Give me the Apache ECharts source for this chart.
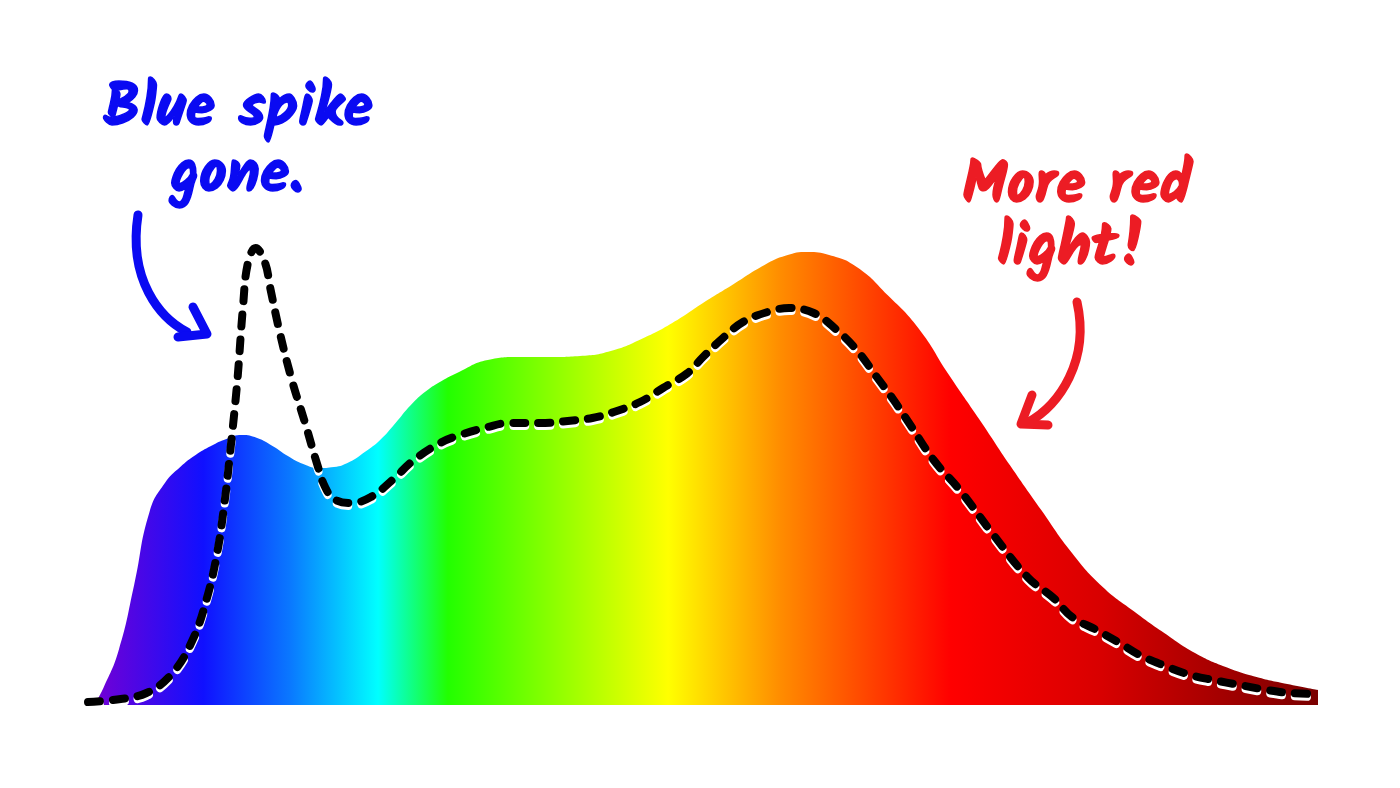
<!DOCTYPE html>
<html>
<head>
<meta charset="utf-8">
<script src="https://cdn.jsdelivr.net/npm/echarts@6/dist/echarts.min.js"></script>
<style>html,body{margin:0;padding:0;background:#fff;}#c{width:1400px;height:788px;}</style>
</head>
<body>
<div id="c"></div>
<script>
// Spectrum of the new light (filled area), wavelength in nm
const areaNm = [382,385,390,395,400,405,410,415,420,425,430,435,440,445,450,455,460,465,470,475,480,485,490,495,500,510,520,530,540,550,560,570,580,590,600,607,614,621,630,640,650,660,670,680,690,700,710,720,730,740,750,760,770,780];
const areaVal = [0,3.4,11,24,38.6,44.4,47.6,50,51.8,53.2,54,53.4,51.8,49.8,48.2,47.4,47.6,48.6,50.6,53,56.4,60,62.8,64.8,66.4,69,69.6,69.6,69.8,70.8,73.2,76.4,80.4,84.2,88,89.9,90.6,90,87.6,82,75.4,66,57,47.8,39,30.4,23.6,18.8,14.4,10.4,7.6,5.6,4.2,3];
// Spectrum of the old light (dashed line)
const lineNm = [380,388,399,407.5,414,418.5,422,424.5,426.2,428.5,430.4,432,434.5,437.6,439.2,442.4,446.3,450.6,454.8,457.1,460,465.5,472,479,486,494.5,501,510,517,527,536,544,551,559.5,567,575,580,586.5,593,601,608,616,623.5,630,636.5,642,647,655,663.5,674,685.5,694,700,708,715.5,722,729.5,738.5,746,754.5,763.5,771,780];
const lineVal = [0.6,1,2.4,6.4,13,21,30.4,41,50.4,64.4,79.6,88.4,91.4,88.4,83.6,74.4,65,56.4,47.6,43.6,41.2,40.4,41.6,45,49,52.4,54,55.6,56.4,56.4,56.8,57.4,58.6,60.6,63.4,66.4,69.6,73.4,76.6,78.6,79.4,78.4,75,71,65.6,61,56.4,49,43,34.4,25.6,21.4,17.6,15,12.4,10,8,6,5,4,3,2.4,2.2];
// Annotations
const blueNote = ['Blue spike', 'gone.'];
const redNote = ['More red', 'light!'];

const chart = echarts.init(document.getElementById('c'));
const FONT = 'Kalam, "Comic Sans MS", Lato, "Open Sans", sans-serif';
const BLUE = '#0a0af2';
const RED = '#ec1c24';

const spectrum = new echarts.graphic.LinearGradient(0, 0, 1, 0, [
  {offset: 0, color: '#7400d4'},
  {offset: 0.089, color: '#1010ff'},
  {offset: 0.16, color: '#0a78ff'},
  {offset: 0.232, color: '#00ffff'},
  {offset: 0.289, color: '#22ff00'},
  {offset: 0.469, color: '#ffff00'},
  {offset: 0.561, color: '#ff8c00'},
  {offset: 0.70, color: '#ff0000'},
  {offset: 0.823, color: '#d80000'},
  {offset: 1, color: '#7a0000'}
]);

function textEl(str, x, y, color) {
  return {
    type: 'text', x: x, y: y, z: 10,
    style: {text: str, fill: color, font: 'bold 60px ' + FONT, align: 'center', verticalAlign: 'middle',
      stroke: color, lineWidth: 1.5}
  };
}

chart.setOption({
  animation: false,
  backgroundColor: '#ffffff',
  grid: {left: 88, right: 82, top: 205, bottom: 83},
  xAxis: {type: 'value', min: 380, max: 780, show: false},
  yAxis: {type: 'value', min: 0, max: 100, show: false},
  series: [
    {
      type: 'line', smooth: 0.5, showSymbol: false, silent: true,
      data: areaNm.map((n, i) => [n, areaVal[i]]),
      lineStyle: {width: 0},
      areaStyle: {color: spectrum, opacity: 1},
      z: 1
    },
    {
      type: 'line', smooth: 0.4, showSymbol: false, silent: true,
      data: lineNm.map((n, i) => [n, lineVal[i]]),
      lineStyle: {color: '#000', width: 8, type: [12, 13], cap: 'round', join: 'round',
        shadowColor: '#ffffff', shadowOffsetY: 3, shadowOffsetX: 0, shadowBlur: 0},
      z: 3
    }
  ],
  graphic: [
    textEl(blueNote[0], 238, 116, BLUE),
    textEl(blueNote[1], 237, 182, BLUE),
    textEl(redNote[0], 1077, 193, RED),
    textEl(redNote[1], 1072, 255, RED),
    // blue arrow
    {type: 'bezierCurve', z: 10, shape: {x1: 138, y1: 215, x2: 187, y2: 332, cpx1: 128, cpy1: 280, cpx2: 160, cpy2: 318},
      style: {stroke: BLUE, lineWidth: 9, lineCap: 'round', fill: 'none'}},
    {type: 'polyline', z: 10, shape: {points: [[193, 307], [207, 334], [178, 337]]},
      style: {stroke: BLUE, lineWidth: 9, lineCap: 'round', lineJoin: 'round', fill: 'none'}},
    // red arrow
    {type: 'bezierCurve', z: 10, shape: {x1: 1077, y1: 302, x2: 1027, y2: 423, cpx1: 1090, cpy1: 360, cpx2: 1060, cpy2: 405},
      style: {stroke: RED, lineWidth: 9, lineCap: 'round', fill: 'none'}},
    {type: 'polyline', z: 10, shape: {points: [[1032, 395], [1021, 424], [1048, 425]]},
      style: {stroke: RED, lineWidth: 9, lineCap: 'round', lineJoin: 'round', fill: 'none'}}
  ]
});
</script>
</body>
</html>
